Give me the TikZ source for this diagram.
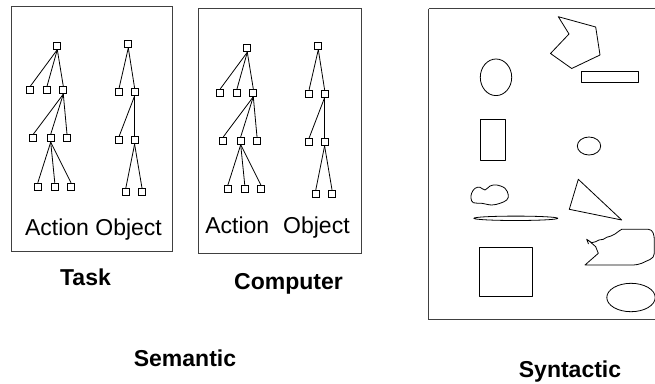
\documentclass[tikz,border=0pt]{standalone}
\usepackage{fontspec}
\setmainfont{Liberation Sans}
\begin{document}
\begin{tikzpicture}[x=1pt,y=-1pt,
  frame/.style={draw=black!75,line width=1pt},
  sq/.style={draw,line width=0.9pt,minimum size=7pt,inner sep=0pt,fill=white},
  branch/.style={line width=0.8pt},
  figline/.style={draw,line width=0.8pt,line join=round},
  boxlabel/.style={anchor=base,inner sep=0pt,font=\fontsize{23}{27}\selectfont},
  caption/.style={anchor=base,inner sep=0pt,font=\fontsize{23}{27}\selectfont\bfseries},
  actiontree/.pic={
    \node[sq] (-r)  at (0,0) {};
    \node[sq] (-a1) at (-27,44.5) {};
    \node[sq] (-a2) at (-10.3,44.5) {};
    \node[sq] (-a3) at (6,44.5) {};
    \node[sq] (-b1) at (-24,92.5) {};
    \node[sq] (-b2) at (-6.6,92.5) {};
    \node[sq] (-b3) at (9.7,92.5) {};
    \node[sq] (-c1) at (-19.5,141) {};
    \node[sq] (-c2) at (-2.5,141) {};
    \node[sq] (-c3) at (13.7,141) {};
    \foreach \k in {a1,a2,a3} \draw[branch] (-r.south) -- (-\k.north);
    \foreach \k in {b1,b2,b3} \draw[branch] (-a3.south) -- (-\k.north);
    \foreach \k in {c1,c2,c3} \draw[branch] (-b2.south) -- (-\k.north);
  },
  objecttree/.pic={
    \node[sq] (-r)  at (0,0) {};
    \node[sq] (-a1) at (-9.2,48) {};
    \node[sq] (-a2) at (6.3,48) {};
    \node[sq] (-b1) at (-9.2,96.3) {};
    \node[sq] (-b2) at (6.3,96.3) {};
    \node[sq] (-c1) at (-2.5,148) {};
    \node[sq] (-c2) at (13.7,148) {};
    \foreach \k in {a1,a2} \draw[branch] (-r.south) -- (-\k.north);
    \foreach \k in {b1,b2} \draw[branch] (-a2.south) -- (-\k.north);
    \foreach \k in {c1,c2} \draw[branch] (-b2.south) -- (-\k.north);
  }]
\useasboundingbox (0,0) rectangle (655,383);
\clip (0,0) rectangle (655,383);

% semantic level: task and computer panels
\draw[frame] (11.5,6.5) rectangle (172,251);
\draw[frame] (198.5,8.5) rectangle (361.7,253.3);

\pic (taskact) at (57.3,45.7) {actiontree};
\pic (taskobj) at (128.3,44) {objecttree};
\pic (compact) at (247.3,48.3) {actiontree};
\pic (compobj) at (318.3,45.7) {objecttree};

\node[boxlabel] (tasklbl) at (93.5,235) {Action Object};
\node[boxlabel] (complbl) at (277.5,233.5) {Action\hspace{14pt}Object};

\node[caption] (task) at (85.5,285) {Task};
\node[caption] (computer) at (288.5,289.5) {Computer};
\node[caption] (semantic) at (185,366.5) {Semantic};

% syntactic level: a panel of assorted shapes
\draw[frame] (428.5,8.5) -- (428.5,319.5) -- (670,319.5);
\draw[frame] (428.5,8.5) -- (670,8.5);

\draw[figline] (558.3,16.7) -- (569,34) -- (550.5,53.5) -- (571.7,68.5)
  -- (600,55) -- (595.7,27) -- cycle;
\draw[figline] (496,77.3) ellipse [x radius=15.7pt, y radius=18.3pt];
\draw[figline] (581.7,71) rectangle (638.3,82.3);
\draw[figline] (480.7,119) rectangle (505.7,160);
\draw[figline] (589,146) ellipse [x radius=11.7pt, y radius=9pt];

\draw[figline] plot[smooth cycle,tension=0.6] coordinates {
  (471.7,193) (475,188.3) (480,187.3) (485,190) (490,186) (496.7,185)
  (505,188.3) (508.3,195) (506.7,200) (500,203.3) (491.7,205)
  (481.7,203.3) (473.3,202.7) (471,198.3)};
\draw[figline] (515.8,218.3) ellipse [x radius=42pt, y radius=2.2pt];
\draw[figline] (578.3,179.3) -- (569.3,209.3) -- (621.7,220) -- cycle;
\draw[figline] (479.3,247.3) rectangle (532.3,296);

\draw[figline] (586.7,239.3) -- (591.7,242.7) -- (595.7,241.7) -- (599,240)
  -- (603.3,239.3) -- (606.7,237.3) -- (611,236) -- (615,234) -- (619,231)
  -- (621.7,229.3) -- (648.3,229.3) to[out=0,in=90] (654.3,240)
  -- (654.3,253.3) to[out=-90,in=30] (641.7,263.3)
  to[out=-160,in=0] (625,265) -- (585,265) -- (598.3,253.3)
  -- (595.7,246.7) -- (590,241.7) -- (586.7,239.3) -- (588.5,244);
\draw[figline] (631,297.5) ellipse [x radius=24.2pt, y radius=14.2pt];

\node[caption] (syntactic) at (570,377) {Syntactic};
\end{tikzpicture}
\end{document}
